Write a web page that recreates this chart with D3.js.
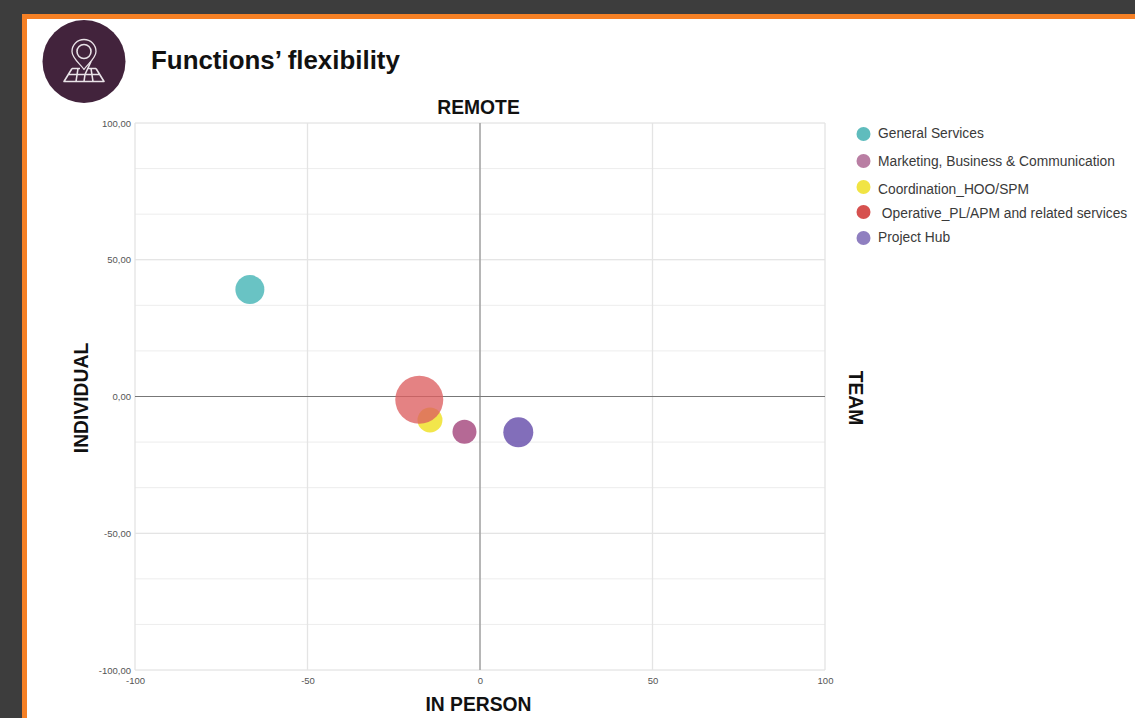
<!DOCTYPE html>
<html>
<head>
<meta charset="utf-8">
<script src="https://cdn.jsdelivr.net/npm/d3@7"></script>
<style>
html,body{margin:0;padding:0;background:#3d3d3d;overflow:hidden}
svg{display:block;font-family:"Liberation Sans",Arial,sans-serif}
</style>
</head>
<body>
<svg id="chart" width="1135" height="718"></svg>
<script>
const functions = ["General Services","Marketing, Business & Communication","Coordination_HOO/SPM"," Operative_PL/APM and related services","Project Hub"];
const flexX = [-66.7,-4.5,-14.5,-17.6,11.1];
const flexY = [39.1,-12.9,-8.6,-1.2,-13.1];
const headcount = [210,144,156,576,225];
const bubbleColors = ["#4fb9ba","#a84f83","#f0e22c","#dd5f60","#6c55ae"];
const legendColors = ["#5fbcbd","#b97ea3","#f1e444","#d6514f","#8f7fc0"];
const xTicks = [-100,-50,0,50,100];
const yLabelTicks = [-100,-50,0,50,100];
const yGridTicks = d3.range(-6,7).map(i=>i*100/6);

const svg = d3.select("#chart");

// page panel with its orange border
svg.append("rect").attr("x",22).attr("y",14).attr("width",1113).attr("height",704).attr("fill","#f58025");
svg.append("rect").attr("x",27).attr("y",19).attr("width",1108).attr("height",699).attr("fill","#ffffff");

// round badge with map pin
const badge = svg.append("g").attr("transform","translate(84,61.5)");
badge.append("circle").attr("r",41.5).attr("fill","#42233c");
const pin = badge.append("g").attr("fill","none").attr("stroke","#e9e3e8").attr("stroke-linejoin","round");
pin.append("path").attr("stroke-width",1.3)
  .attr("d","M0,8 C-3,3 -12,-3 -12,-10 A12,12 0 1 1 12,-10 C12,-3 3,3 0,8 Z");
pin.append("circle").attr("cy",-10).attr("r",7).attr("stroke-width",1.6);
pin.append("path").attr("stroke-width",1.6)
  .attr("d","M-12,7 L-4,7 M4,7 L12,7 M-12,7 L-20,20 L20,20 L12,7 M-16,13 L16,13 M-6,7 L-8,20 M7,7 L9,20 M7,0 L1,13 L0,20");

svg.append("text").attr("x",151).attr("y",69).attr("font-size",25.9).attr("font-weight",700)
  .attr("fill","#111").text("Functions’ flexibility");

const plot = {left:135,right:825,top:123,bottom:670};
const x = d3.scaleLinear().domain([-100,100]).range([plot.left,plot.right]);
const y = d3.scaleLinear().domain([-100,100]).range([plot.bottom,plot.top]);
const r = d3.scaleSqrt().domain([0,576]).range([0,24]);

// gridlines
const gridColor = "#e4e4e4";
svg.append("g").selectAll("line").data(yGridTicks).join("line")
  .attr("x1",plot.left).attr("x2",plot.right)
  .attr("y1",d=>y(d)).attr("y2",d=>y(d))
  .attr("stroke",(d,i)=>i%3===0?"#dcdcdc":"#ededed").attr("stroke-width",1);
svg.append("g").selectAll("line").data(xTicks).join("line")
  .attr("y1",plot.top).attr("y2",plot.bottom)
  .attr("x1",d=>x(d)).attr("x2",d=>x(d))
  .attr("stroke",gridColor).attr("stroke-width",1.3);

// axes: tick labels only, hyphen minus and decimal comma
const hyphen = s => s.replace("\u2212","-");
const xAxis = d3.axisBottom(x).tickValues(xTicks).tickSize(0).tickPadding(7)
  .tickFormat(d=>hyphen(d3.format("d")(d)));
const yAxis = d3.axisLeft(y).tickValues(yLabelTicks).tickSize(0).tickPadding(4)
  .tickFormat(d=>hyphen(d3.format(".2f")(d)).replace(".",","));
[svg.append("g").attr("transform",`translate(0,${plot.bottom})`).call(xAxis),
 svg.append("g").attr("transform",`translate(${plot.left},0)`).call(yAxis)]
 .forEach(g=>{
   g.select(".domain").remove();
   g.selectAll("text").attr("font-size",9.5).attr("fill","#555").attr("font-family","'Liberation Sans',Arial,sans-serif");
 });

// zero lines crossing the plot
svg.append("line").attr("x1",plot.left).attr("x2",plot.right).attr("y1",y(0)).attr("y2",y(0))
  .attr("stroke","#777").attr("stroke-width",1);
svg.append("line").attr("x1",x(0)).attr("x2",x(0)).attr("y1",plot.top).attr("y2",plot.bottom)
  .attr("stroke","#808080").attr("stroke-width",1);

// bubbles, drawn in an order that keeps the yellow one under the red one
svg.append("g").selectAll("circle").data([2,0,1,4,3]).join("circle")
  .attr("cx",i=>x(flexX[i])).attr("cy",i=>y(flexY[i])).attr("r",i=>r(headcount[i]))
  .attr("fill",i=>bubbleColors[i]).attr("fill-opacity",i=>i===3?0.78:0.85);

// axis titles
const axisTitle = (tx,ty,rot,label) => svg.append("text")
  .attr("transform",`translate(${tx},${ty}) rotate(${rot})`)
  .attr("text-anchor","middle").attr("font-size",19.3).attr("font-weight",700).attr("fill","#111").text(label);
axisTitle(478.5,114,0,"REMOTE");
axisTitle(478.5,711,0,"IN PERSON");
axisTitle(87.5,398,-90,"INDIVIDUAL");
axisTitle(849,398,90,"TEAM");

// legend
const legendY = [134,161,187,212,238];
const legendTextY = [138,166,194,218,242];
const legend = svg.append("g");
legend.selectAll("circle").data(functions).join("circle")
  .attr("cx",863.5).attr("cy",(d,i)=>legendY[i]).attr("r",7).attr("fill",(d,i)=>legendColors[i]);
legend.selectAll("text").data(functions).join("text")
  .attr("x",878).attr("y",(d,i)=>legendTextY[i]).attr("font-size",13.8).attr("fill","#3a3a3a")
  .style("white-space","pre").text(d=>d);
</script>
</body>
</html>
